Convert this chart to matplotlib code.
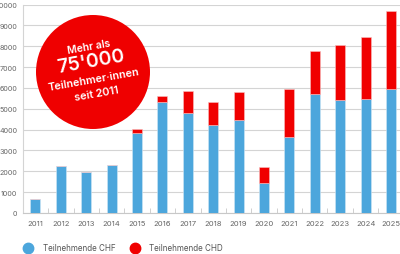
import numpy as np
import matplotlib
matplotlib.use('Agg')
import matplotlib.pyplot as plt
from matplotlib.patches import Ellipse
from matplotlib.lines import Line2D

plt.rcParams['font.family'] = ['Inter', 'DejaVu Sans']

# data
years = ['2011', '2012', '2013', '2014', '2015', '2016', '2017', '2018',
		 '2019', '2020', '2021', '2022', '2023', '2024', '2025']
chf = [650, 2260, 1990, 2320, 3860, 5330, 4800, 4220,
	   4450, 1420, 3630, 5700, 5430, 5470, 5950]
chd = [0, 0, 0, 0, 170, 290, 1040, 1110,
	   1350, 770, 2300, 2050, 2640, 2970, 3720]
yticks = [0, 1000, 2000, 3000, 4000, 5000, 6000, 7000, 8000, 9000, 10000]
label_chf = 'Teilnehmende CHF'
label_chd = 'Teilnehmende CHD'
badge_lines = ['Mehr als', "75'000", 'Teilnehmer·innen', 'seit 2011']

blue = '#4ca6dc'
red = '#f00000'
grey_txt = '#666666'


def main():

	fig = plt.figure(figsize=(4, 2.55), dpi=100)
	ax = fig.add_axes([22.7/400, 41/255, 381/400, 208.5/255])

	x = np.arange(len(years))
	ax.bar(x, chf, width=0.4, color=blue, edgecolor='#cfe6f5', linewidth=0.4, zorder=3)
	ax.bar(x, chd, width=0.4, bottom=chf, color=red, edgecolor='#f7c0c0', linewidth=0.4, zorder=3)

	ax.set_xlim(-0.5, len(years) - 0.5)
	ax.set_ylim(0, 10000)
	ax.set_yticks(yticks)
	ax.set_yticklabels([str(v) for v in yticks])
	ax.set_xticks(x)
	ax.set_xticklabels(years)
	ax.set_xticks(x[:-1] + 0.5, minor=True)

	ax.grid(axis='y', color='#d4d4d4', linewidth=0.8, zorder=0)
	for s in ['top', 'right']:
		ax.spines[s].set_visible(False)
	ax.spines['left'].set_color('#d4d4d4')
	ax.spines['left'].set_linewidth(0.8)
	ax.spines['bottom'].set_color('#c8c8c8')
	ax.spines['bottom'].set_linewidth(0.8)

	ax.tick_params(axis='y', length=0, pad=3.8, labelsize=5.2, labelcolor=grey_txt)
	ax.tick_params(axis='x', which='major', length=0, pad=5, labelsize=5.5, labelcolor=grey_txt)
	ax.tick_params(axis='x', which='minor', direction='in', length=3.5, width=0.6, color='#c8c8c8')

	# red badge
	cx, cy, r = 93/400, 1 - 73/255, 57
	fig.patches.append(Ellipse((cx, cy), 2*r/400, 2*r/255, transform=fig.transFigure,
							   facecolor='#ef0000', edgecolor='none', zorder=5))
	rot = 10
	fig.text(89/400, 1 - 47.5/255, badge_lines[0], fontsize=7.5, fontweight='semibold', color='white',
			 rotation=rot, ha='center', va='center', zorder=6)
	fig.text(91/400, 1 - 62.5/255, badge_lines[1], fontsize=14, fontweight='semibold', color='white',
			 rotation=rot, ha='center', va='center', zorder=6)
	fig.text(94/400, 1 - 80/255, badge_lines[2], fontsize=7.8, fontweight='semibold', color='white',
			 rotation=rot, ha='center', va='center', zorder=6)
	fig.text(97/400, 1 - 94.5/255, badge_lines[3], fontsize=7.8, fontweight='semibold', color='white',
			 rotation=rot, ha='center', va='center', zorder=6)

	handles = [Line2D([], [], marker='o', linestyle='none', markersize=7.5, color=blue),
			   Line2D([], [], marker='o', linestyle='none', markersize=7.5, color=red)]
	fig.legend(handles, [label_chf, label_chd], loc='center left', bbox_to_anchor=(20/400, 1 - 249/255),
			   ncol=2, frameon=False, fontsize=5.8, labelcolor='#555555', handletextpad=0.8,
			   columnspacing=1.4, borderaxespad=0, borderpad=0)

	fig.savefig('out.png', dpi=100)

	return


if __name__ == "__main__": main()
